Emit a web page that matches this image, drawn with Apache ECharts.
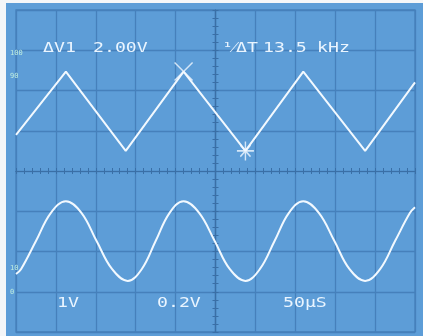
<!DOCTYPE html>
<html><head><meta charset="utf-8">
<script src="https://cdn.jsdelivr.net/npm/echarts@6/dist/echarts.min.js"></script>
<style>html,body{margin:0;padding:0;background:#f4f6f8;}#c{width:423px;height:336px;}</style>
</head><body><div id="c"></div>
<script>
// Channel 1: triangle wave (divisions)
const triX = [-5, -3.75, -2.25, -0.8, 0.75, 2.2, 3.75, 5];
const triY = [0.9, 2.47, 0.5, 2.47, 0.5, 2.47, 0.5, 2.2];
// Channel 2: sine wave (divisions), read at peaks, troughs, crossings and quarter points
const sinX = [-5.0, -4.875, -4.5, -4.125, -3.75, -3.36, -2.98, -2.59, -2.2, -1.85, -1.5, -1.15, -0.8, -0.41, -0.02, 0.36, 0.75, 1.11, 1.48, 1.84, 2.2, 2.59, 2.98, 3.36, 3.75, 4.125, 4.5, 4.875, 5.0];
const sinY = [-2.56, -2.44, -1.74, -1.04, -0.75, -1.04, -1.74, -2.44, -2.73, -2.44, -1.74, -1.04, -0.75, -1.04, -1.74, -2.44, -2.73, -2.44, -1.74, -1.04, -0.75, -1.04, -1.74, -2.44, -2.73, -2.44, -1.74, -1.04, -0.9];
// Cursors
const cursorX = [-0.8, 2.47];
const cursorStar = [0.75, 0.5];
// Readout texts
const readoutTop = [['ΔV1', 43], ['2.00V', 93], ['¹⁄ΔT', 222], ['13.5', 263], ['kHz', 317]];
const readoutBottom = [['1V', 57], ['0.2V', 157], ['50μS', 283]];
const pctMarks = [['100', 53], ['90', 76], ['10', 268], ['0', 292]];

const chart = echarts.init(document.getElementById('c'));
const trace = '#f2f9ff';
const gridCol = '#4680bb';
const tickCol = '#3a6fa6';
const font = '"DejaVu Sans Mono", monospace';

const graphics = [
  {type:'rect', shape:{x:6, y:3, width:417, height:333}, style:{fill:'#5d9dd7'}, z:-10, silent:true}
];
readoutTop.forEach(([t, x]) => graphics.push({type:'text', x:x, y:48, scaleX:1.3, style:{text:t, fill:'#eaf5ff', font:'14px ' + font, textVerticalAlign:'middle'}, z:10}));
readoutBottom.forEach(([t, x]) => graphics.push({type:'text', x:x, y:303, scaleX:1.3, style:{text:t, fill:'#eaf5ff', font:'14px ' + font, textVerticalAlign:'middle'}, z:10}));
pctMarks.forEach(([t, y]) => graphics.push({type:'text', x:10, y:y, style:{text:t, fill:'#bfeee0', font:'7px ' + font, textVerticalAlign:'middle'}, z:10}));

function ax(inside, split) {
  return {
    axisLine:{onZero:true, lineStyle:{color:tickCol, width:1.2}},
    axisTick:{show:true, inside:inside, length:3, lineStyle:{color:tickCol}},
    minorTick:{show:true, splitNumber:5, length:3, lineStyle:{color:tickCol}},
    axisLabel:{show:false},
    splitLine:{show:split, lineStyle:{color:gridCol, width:1.3}}
  };
}

chart.setOption({
  animation: false,
  backgroundColor: 'transparent',
  graphic: graphics,
  grid: {left:16, right:8, top:10, bottom:4, show:true, borderColor:gridCol, borderWidth:1.3, backgroundColor:'transparent'},
  xAxis: [
    Object.assign({type:'value', min:-5, max:5, interval:1}, ax(false, true)),
    Object.assign({type:'value', min:-5, max:5, interval:1, position:'bottom'}, ax(true, false))
  ],
  yAxis: [
    Object.assign({type:'value', min:-4, max:4, interval:1}, ax(false, true)),
    Object.assign({type:'value', min:-4, max:4, interval:1, position:'left'}, ax(true, false))
  ],
  series: [
    {type:'line', data: triX.map((x,i)=>[x, triY[i]]), showSymbol:false, lineStyle:{color:trace, width:2}, z:5},
    {type:'line', data: sinX.map((x,i)=>[x, sinY[i]]), smooth:0.4, showSymbol:false, lineStyle:{color:trace, width:2}, z:5},
    {type:'scatter', data:[cursorX], symbol:'path://M0,0L10,10M10,0L0,10', symbolSize:18,
      itemStyle:{color:'transparent', borderColor:trace, borderWidth:1.5}, z:6},
    {type:'scatter', data:[cursorStar], symbol:'path://M5,0L5,10M0,5L10,5M2,2L8,8M8,2L2,8', symbolSize:[17,19],
      itemStyle:{color:'transparent', borderColor:trace, borderWidth:1.5}, z:6}
  ]
});
</script></body></html>
